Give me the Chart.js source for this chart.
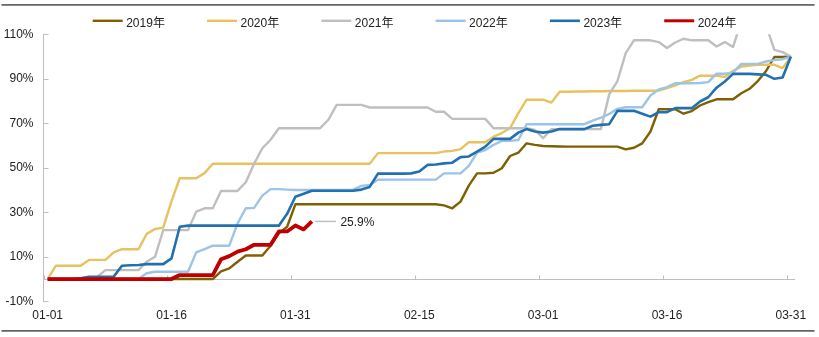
<!DOCTYPE html>
<html><head><meta charset="utf-8">
<script src="https://cdn.jsdelivr.net/npm/chart.js@4.4.1/dist/chart.umd.min.js"></script>
<style>html,body{margin:0;padding:0;background:#fff;}canvas{display:block;}</style>
</head><body>
<canvas id="c" width="819" height="337"></canvas>
<script>
const dates = [
'01-01','01-02','01-03','01-04','01-05','01-06','01-07','01-08','01-09','01-10',
'01-11','01-12','01-13','01-14','01-15','01-16','01-17','01-18','01-19','01-20',
'01-21','01-22','01-23','01-24','01-25','01-26','01-27','01-28','01-29','01-30',
'01-31','02-01','02-02','02-03','02-04','02-05','02-06','02-07','02-08','02-09',
'02-10','02-11','02-12','02-13','02-14','02-15','02-16','02-17','02-18','02-19',
'02-20','02-21','02-22','02-23','02-24','02-25','02-26','02-27','02-28','02-29',
'03-01','03-02','03-03','03-04','03-05','03-06','03-07','03-08','03-09','03-10',
'03-11','03-12','03-13','03-14','03-15','03-16','03-17','03-18','03-19','03-20',
'03-21','03-22','03-23','03-24','03-25','03-26','03-27','03-28','03-29','03-30',
'03-31'];
const tickLabels = ['01-01','01-16','01-31','02-15','03-01','03-16','03-31'];
const yMin = -10, yMax = 110, yStep = 20;
const seriesNames = ['2019年','2020年','2021年','2022年','2023年','2024年'];

const v2019 = [
0,0,0,0,0,0,0,0,0,0,
0,0,0,0,0,0,0,0,0,0,
0,3.5,4.8,7.8,10.6,10.6,10.6,15,20.5,23.5,
33.6,33.6,33.6,33.6,33.6,33.6,33.6,33.6,33.6,33.6,
33.6,33.6,33.6,33.6,33.6,33.6,33.6,33.6,33.1,31.8,
34.8,42,47.5,47.5,47.8,49.8,55.3,56.8,61,60.3,
59.8,59.7,59.6,59.5,59.5,59.5,59.5,59.5,59.5,59.5,
58.3,59,61,66.3,76.3,76.3,76.3,74.3,75.5,78,
79.5,80.8,80.8,80.8,83.5,85.5,89,93.5,99.8,99.8,
100];
const v2020 = [
0,6,6,6,6,8.6,8.6,8.6,12,13.4,
13.4,13.4,20.3,22.5,23.1,35,45.3,45.3,45.3,47.6,
51.8,51.8,51.8,51.8,51.8,51.8,51.8,51.8,51.8,51.8,
51.8,51.8,51.8,51.8,51.8,51.8,51.8,51.8,51.8,51.8,
56.6,56.6,56.6,56.6,56.6,56.6,56.6,56.6,57.3,57.6,
58.4,61.5,61.5,61.5,64,65.6,67.8,74.6,80.6,80.6,
80.6,79.3,84.2,84.2,84.3,84.3,84.4,84.4,84.5,84.5,
84.5,84.6,84.6,84.6,84.7,85.8,87,88.5,89.5,91.4,
91.4,91.4,90.8,93.6,95.5,96,96.3,96.3,96.3,94.8,
100];
const v2021 = [
0,0,0,0,0,0,1,4,4,4,
4,4,7.8,10,22,22,22,22,30.3,31.8,
31.8,39.6,39.6,39.6,43.5,51.8,58.8,62.6,67.8,67.8,
67.8,67.8,67.8,67.8,71.6,78.3,78.3,78.3,78.3,77.1,
77.1,77.1,77.1,77.1,77.1,77.1,77.1,75.2,75.2,72,
72,72,72,72,67.8,67.8,67.8,67.8,67.8,67,
63.3,67.4,67.4,67.4,67.4,67.4,67.4,67.4,83,89,
101.5,107.3,107.3,107.3,106.5,103.8,106.3,108,107.3,107.3,
107.3,104.5,106.5,104.3,116,119,119,114,103,102,
100];
const v2022 = [
0,0,0,0,0,0,0,0,0,0,
0,0,2.6,3.3,3.3,3.3,3.3,3.3,12,13.5,
15,15,15,25,31.8,32,37.5,40.4,40.4,40.2,
40,40,40,40,40,40,40,40.2,41.9,42.3,
44.6,44.7,44.7,44.7,44.7,44.7,44.7,44.7,47.5,47.5,
47.5,50.9,56.8,58,60.3,62.1,62.1,62.5,69.6,69.6,
69.6,69.6,69.6,69.6,69.6,69.6,71.2,72.5,74.2,76.5,
77.2,77.2,77.2,82.5,85.2,86.3,88,88,88,88.1,
88.5,92.3,92.3,92.8,96.7,96.7,96.7,97.8,98.4,98.8,
100];
const v2023 = [
0,0,0,0,0.3,1,1,1,1.1,6,
6.2,6.3,6.7,6.7,6.7,9.3,23.5,24,24,24,
24,24,24,24,24,24,24,24,24,29.3,
37,38.3,39.7,39.7,39.7,39.7,39.7,39.7,40.2,41.4,
47.4,47.4,47.4,47.4,47.5,48.3,51.3,51.5,52,52.3,
54.8,55.1,57.3,59.5,63,63,63,65.8,67.4,66.3,
65.8,66.3,67.4,67.4,67.4,67.4,68.9,69.3,69.6,75.6,
75.6,75.6,74.3,73,75,75,76.8,76.8,76.8,79.8,
81.7,86,88.8,92.2,92.2,92.2,92,91.8,90,90.6,
100];
const v2024 = [
0,0,0,0,0,0,0,0,0,0,
0,0,0,0,0,0,1.8,1.8,1.8,1.8,
1.8,8.9,10.3,12.3,13.4,15.4,15.4,15.4,21.4,21.4,
24.1,22.3,25.9];

const seriesValues = [v2019, v2020, v2021, v2022, v2023, v2024];
const lineColors = ['#7F6000', '#E6C35F', '#BFBFBF', '#9DC3E6', '#2270B0', '#C00000'];
const lineWidths = [2.4, 2.4, 2.4, 2.4, 2.6, 3.8];

const FONT = "'Liberation Sans', 'Noto Sans CJK SC', Arial, sans-serif";
const TEXT = '#222222';
const AXIS = '#BFBFBF';

const decor = {
  id: 'decor',
  beforeDatasetsDraw(chart) {
    const {ctx, chartArea: a, scales: {x, y}} = chart;
    const y0 = Math.round(y.getPixelForValue(0)) + 0.5;
    ctx.save();
    ctx.strokeStyle = AXIS; ctx.lineWidth = 1;
    ctx.beginPath(); ctx.moveTo(a.left, y0); ctx.lineTo(a.right, y0);
    const half = (x.getPixelForValue(1) - x.getPixelForValue(0)) / 2;
    tickLabels.forEach(l => {
      const i = dates.indexOf(l);
      const px = Math.round(x.getPixelForValue(i) - half) + 0.5;
      ctx.moveTo(px, y0); ctx.lineTo(px, y0 - 4);
    });
    y.ticks.forEach(t => {
      const py = Math.round(y.getPixelForValue(t.value)) + 0.5;
      ctx.moveTo(a.left, py); ctx.lineTo(a.left + 5, py);
    });
    ctx.stroke();
    ctx.restore();
  },
  afterDraw(chart) {
    const {ctx} = chart;
    ctx.save();
    // frame rules
    ctx.strokeStyle = '#666666'; ctx.lineWidth = 1.6;
    ctx.beginPath();
    ctx.moveTo(1.5, 4.9); ctx.lineTo(814.5, 4.9);
    ctx.moveTo(1.5, 330.9); ctx.lineTo(814.5, 330.9);
    ctx.stroke();
    // legend
    const LX0 = 92.7, LSTEP = 114.3, LLEN = 30, LY = 20.8;
    ctx.font = '12px ' + FONT;
    ctx.textBaseline = 'alphabetic'; ctx.textAlign = 'left';
    chart.data.datasets.forEach((ds, k) => {
      const lx = LX0 + k * LSTEP;
      ctx.strokeStyle = ds.borderColor; ctx.lineWidth = Math.min(ds.borderWidth, 3);
      ctx.beginPath(); ctx.moveTo(lx, LY); ctx.lineTo(lx + LLEN, LY); ctx.stroke();
      ctx.fillStyle = TEXT;
      ctx.fillText(ds.label, lx + 33.5, 27);
    });
    // annotation for last 2024 value
    const idx = 5;
    const pts = chart.getDatasetMeta(idx).data;
    const p = pts[pts.length - 1];
    const val = seriesValues[idx][seriesValues[idx].length - 1];
    ctx.strokeStyle = AXIS; ctx.lineWidth = 1.5;
    ctx.beginPath(); ctx.moveTo(p.x + 3, p.y); ctx.lineTo(p.x + 24, p.y); ctx.stroke();
    ctx.fillStyle = TEXT; ctx.textBaseline = 'middle';
    ctx.fillText(val.toFixed(1) + '%', p.x + 28.5, p.y + 1);
    ctx.restore();
  }
};

new Chart(document.getElementById('c'), {
  type: 'line',
  data: {
    labels: dates,
    datasets: seriesNames.map((n, k) => ({
      label: n,
      data: seriesValues[k],
      borderColor: lineColors[k],
      backgroundColor: lineColors[k],
      borderWidth: lineWidths[k],
      pointRadius: 0,
      tension: 0,
      fill: false,
      borderJoinStyle: 'round',
      order: seriesNames.length - 1 - k
    }))
  },
  options: {
    responsive: false,
    animation: false,
    devicePixelRatio: 1,
    layout: { padding: { top: 34.3, right: 24, bottom: 0, left: 0 } },
    plugins: { legend: { display: false }, tooltip: { enabled: false } },
    scales: {
      x: {
        type: 'category',
        offset: true,
        grid: { display: false, drawTicks: false },
        border: { display: false },
        afterFit: s => { s.height = 35.7; },
        ticks: {
          autoSkip: false, maxRotation: 0, minRotation: 0, padding: 7.5,
          color: TEXT, font: { family: FONT, size: 12 },
          callback: function(v, i) { const l = dates[i]; return tickLabels.includes(l) ? l : ''; }
        }
      },
      y: {
        min: yMin, max: yMax,
        grid: { display: false, drawTicks: false },
        border: { display: true, color: AXIS, width: 1 },
        afterFit: s => { s.width = 43.5; },
        ticks: {
          stepSize: yStep, padding: 10,
          color: TEXT, font: { family: FONT, size: 12 },
          callback: v => v + '%'
        }
      }
    }
  },
  plugins: [decor]
});
</script>
</body></html>
